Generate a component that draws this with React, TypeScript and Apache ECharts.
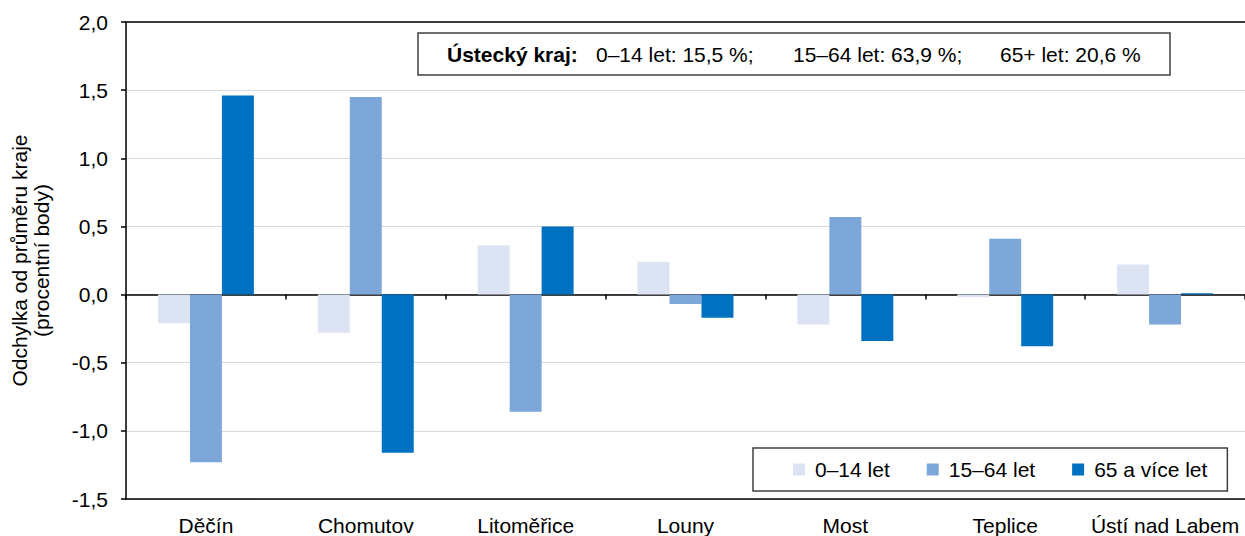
import React, { useEffect, useRef } from "react";
import * as echarts from "echarts";

const categories = ["Děčín", "Chomutov", "Litoměřice", "Louny", "Most", "Teplice", "Ústí nad Labem"];
const seriesNames = ["0–14 let", "15–64 let", "65 a více let"];
const age0to14 = [-0.21, -0.28, 0.36, 0.24, -0.22, -0.02, 0.22];
const age15to64 = [-1.23, 1.45, -0.86, -0.07, 0.57, 0.41, -0.22];
const age65plus = [1.46, -1.16, 0.5, -0.17, -0.34, -0.38, 0.01];
const colors = ["#dce3f3", "#7ea7d9", "#0070c0"];
const annotationLabel = "Ústecký kraj:";
const annotationParts = ["0–14 let: 15,5 %;", "15–64 let: 63,9 %;", "65+ let: 20,6 %"];

const FONT = "'Liberation Sans', Arial, sans-serif";
const FS = 21;

export default function App() {
  const ref = useRef<HTMLDivElement>(null);
  useEffect(() => {
    document.body.style.margin = "0";
    const chart = echarts.init(ref.current!, null, { renderer: "svg" });
    const values = [age0to14, age15to64, age65plus];
    const option = {
      animation: false,
      textStyle: { fontFamily: FONT, color: "#000" },
      grid: { left: 125, right: 0, top: 22, bottom: 34, containLabel: false },
      legend: {
        left: 753,
        top: 448,
        orient: "horizontal",
        data: seriesNames,
        itemWidth: 12,
        itemHeight: 12,
        itemGap: 37,
        icon: "rect",
        borderColor: "#404040",
        borderWidth: 1.5,
        padding: [11, 20, 11, 40],
        textStyle: { fontSize: FS, fontFamily: FONT, color: "#000", padding: [0, 0, 0, 5] },
      },
      xAxis: [
        {
          type: "category",
          data: categories,
          position: "bottom",
          axisLine: { onZero: false, lineStyle: { color: "#000", width: 1.5 } },
          axisTick: { show: false },
          axisLabel: { fontSize: FS, color: "#000", margin: 16, fontFamily: FONT, interval: 0 },
          splitLine: { show: false },
        },
        {
          type: "category",
          data: categories,
          position: "bottom",
          axisLine: { onZero: true, lineStyle: { color: "#000", width: 1.5 } },
          axisTick: { show: true, length: 5, lineStyle: { color: "#000", width: 1.5 } },
          axisLabel: { show: false },
          splitLine: { show: false },
        },
        {
          type: "category",
          data: categories,
          position: "top",
          axisLine: { onZero: false, lineStyle: { color: "#000", width: 1.5 } },
          axisTick: { show: false },
          axisLabel: { show: false },
          splitLine: { show: false },
        },
      ],
      yAxis: {
        type: "value",
        min: -1.5,
        max: 2,
        interval: 0.5,
        name: "Odchylka od průměru kraje\n(procentní body)",
        nameLocation: "middle",
        nameRotate: 90,
        nameGap: 74,
        nameTextStyle: { fontSize: FS, color: "#000", fontFamily: FONT, lineHeight: 22 },
        axisLine: { show: true, lineStyle: { color: "#000", width: 1.5 } },
        axisTick: { show: true, length: 5, lineStyle: { color: "#000", width: 1.5 } },
        axisLabel: {
          fontSize: FS,
          color: "#000",
          margin: 18,
          fontFamily: FONT,
          formatter: (v: number) => v.toFixed(1).replace(".", ","),
        },
        splitLine: { show: true, lineStyle: { color: "#d9d9d9", width: 1 } },
      },
      series: seriesNames.map((name, i) => ({
        name,
        type: "bar",
        xAxisIndex: 0,
        data: values[i],
        itemStyle: { color: colors[i] },
        barGap: "0%",
        barCategoryGap: "40%",
      })),
      graphic: [
        {
          type: "rect",
          shape: { x: 418, y: 33, width: 752, height: 42 },
          style: { fill: "#fff", stroke: "#404040", lineWidth: 1.5 },
          z: 10,
        },
        {
          type: "text",
          x: 447,
          y: 54,
          z: 11,
          style: { text: annotationLabel, fontSize: FS, fontWeight: "bold", fontFamily: FONT, fill: "#000", verticalAlign: "middle" },
        },
        {
          type: "text",
          x: 596,
          y: 54,
          z: 11,
          style: { text: annotationParts[0], fontSize: FS, fontFamily: FONT, fill: "#000", verticalAlign: "middle" },
        },
        {
          type: "text",
          x: 793,
          y: 54,
          z: 11,
          style: { text: annotationParts[1], fontSize: FS, fontFamily: FONT, fill: "#000", verticalAlign: "middle" },
        },
        {
          type: "text",
          x: 1000,
          y: 54,
          z: 11,
          style: { text: annotationParts[2], fontSize: FS, fontFamily: FONT, fill: "#000", verticalAlign: "middle" },
        },
      ],
    };
    chart.setOption(option as any);
    return () => chart.dispose();
  }, []);
  return <div ref={ref} style={{ width: 1245, height: 536 }} />;
}
